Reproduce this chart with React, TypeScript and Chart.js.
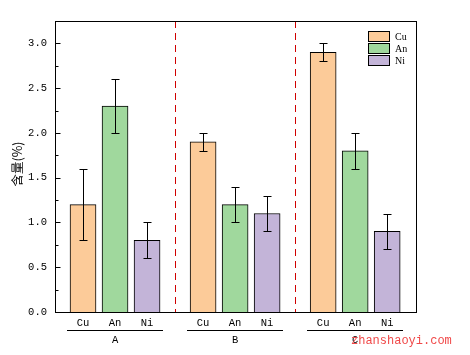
import React, { useEffect, useRef } from "react";
import { Chart, registerables } from "chart.js";

Chart.register(...registerables);

const groups = ["A", "B", "C"];
const metals = ["Cu", "An", "Ni"];
const cuValues = [1.2, 1.9, 2.9];
const anValues = [2.3, 1.2, 1.8];
const niValues = [0.8, 1.1, 0.9];
const cuErrors = [0.4, 0.1, 0.1];
const anErrors = [0.3, 0.2, 0.2];
const niErrors = [0.2, 0.2, 0.2];
const yTicks = [0, 0.5, 1.0, 1.5, 2.0, 2.5, 3.0];
const yTitle = "含量(%)";
const watermark = "zhanshaoyi.com";

const seriesValues = [cuValues, anValues, niValues];
const seriesErrors = [cuErrors, anErrors, niErrors];
const colors = ["#FCCB99", "#A0D89D", "#C3B4D8"];

const GROUP_STEP = 3.75;
const posOf = (g: number, i: number) => 1 + g * GROUP_STEP + i;

const tickPositions: number[] = [];
const tickLabels: string[] = [];
groups.forEach((_, g) =>
  metals.forEach((m, i) => {
    tickPositions.push(posOf(g, i));
    tickLabels.push(m);
  })
);

const monoFont = "'Liberation Mono', 'DejaVu Sans Mono', monospace";

const decorPlugin = {
  id: "decor",
  beforeDatasetsDraw(chart: any) {
    const { ctx, chartArea, scales } = chart;
    const x = scales.x;
    ctx.save();
    ctx.strokeStyle = "#d00000";
    ctx.lineWidth = 1;
    ctx.setLineDash([7, 5]);
    for (let g = 0; g < groups.length - 1; g++) {
      const px = Math.round(x.getPixelForValue((posOf(g, 2) + posOf(g + 1, 0)) / 2)) + 0.5;
      ctx.beginPath();
      ctx.moveTo(px, chartArea.top);
      ctx.lineTo(px, chartArea.bottom);
      ctx.stroke();
    }
    ctx.restore();
  },
  afterDatasetsDraw(chart: any) {
    const { ctx, chartArea, scales } = chart;
    const x = scales.x;
    const y = scales.y;
    ctx.save();
    ctx.strokeStyle = "#000";
    ctx.lineWidth = 1;
    seriesValues.forEach((vals, i) => {
      vals.forEach((v, g) => {
        const e = seriesErrors[i][g];
        const px = Math.round(x.getPixelForValue(posOf(g, i))) + 0.5;
        const top = Math.round(y.getPixelForValue(v + e)) + 0.5;
        const bot = Math.round(y.getPixelForValue(v - e)) + 0.5;
        ctx.beginPath();
        ctx.moveTo(px, top);
        ctx.lineTo(px, bot);
        ctx.moveTo(px - 4, top);
        ctx.lineTo(px + 4, top);
        ctx.moveTo(px - 4, bot);
        ctx.lineTo(px + 4, bot);
        ctx.stroke();
      });
    });
    ctx.strokeRect(
      Math.round(chartArea.left) + 0.5,
      Math.round(chartArea.top) + 0.5,
      Math.round(chartArea.right - chartArea.left),
      Math.round(chartArea.bottom - chartArea.top)
    );
    const lx = Math.round(chartArea.left) + 0.5;
    for (let k = 0; k <= 12; k++) {
      const v = k * 0.25;
      const py = Math.round(y.getPixelForValue(v)) + 0.5;
      const len = k % 2 === 0 ? 5 : 3;
      ctx.beginPath();
      ctx.moveTo(lx, py);
      ctx.lineTo(lx + len, py);
      ctx.stroke();
    }
    ctx.fillStyle = "#000";
    ctx.font = `10.5px ${monoFont}`;
    ctx.textAlign = "center";
    ctx.textBaseline = "middle";
    groups.forEach((gName, g) => {
      const x0 = x.getPixelForValue(posOf(g, 0) - 0.5);
      const x1 = x.getPixelForValue(posOf(g, 2) + 0.5);
      const ly = chartArea.bottom + 18.5;
      ctx.beginPath();
      ctx.moveTo(Math.round(x0), ly);
      ctx.lineTo(Math.round(x1), ly);
      ctx.stroke();
      ctx.fillText(gName, (x0 + x1) / 2, chartArea.bottom + 28);
    });
    ctx.save();
    ctx.translate(17, 164);
    ctx.rotate(-Math.PI / 2);
    ctx.font = "12.5px 'Noto Sans CJK SC', sans-serif";
    ctx.fillText(yTitle, 0, 0);
    ctx.restore();
    const lgX = chartArea.right - 48;
    const lgY = chartArea.top + 10;
    ctx.font = "10px 'Liberation Serif', serif";
    ctx.textAlign = "left";
    metals.forEach((m, i) => {
      const by = lgY + i * 12;
      ctx.fillStyle = colors[i];
      ctx.fillRect(lgX, by, 22, 11);
      ctx.strokeStyle = "#000";
      ctx.strokeRect(lgX + 0.5, by + 0.5, 21, 10);
      ctx.fillStyle = "#000";
      ctx.fillText(m, lgX + 27, by + 6);
    });
    ctx.fillStyle = "#f04848";
    ctx.font = `12px ${monoFont}`;
    ctx.textAlign = "left";
    ctx.fillText(watermark, 351, 341);
    ctx.restore();
  },
};

export default function App() {
  const ref = useRef<HTMLCanvasElement>(null);
  useEffect(() => {
    document.body.style.margin = "0";
    const datasets = metals.map((m, i) => ({
      label: m,
      data: seriesValues[i].map((v, g) => ({ x: posOf(g, i), y: v })),
      backgroundColor: colors[i],
      borderColor: "#000",
      borderWidth: 1,
      barThickness: 26,
      grouped: false,
    }));
    const chart = new Chart(ref.current!, {
      type: "bar",
      data: { datasets },
      options: {
        animation: false,
        responsive: false,
        maintainAspectRatio: false,
        layout: { padding: { top: 21, right: 54, left: 0, bottom: 0 } },
        plugins: { legend: { display: false }, tooltip: { enabled: false } },
        scales: {
          x: {
            type: "linear",
            offset: false,
            min: 0.125,
            max: 11.4,
            grid: { display: false, drawTicks: false },
            border: { display: false },
            afterBuildTicks: (s: any) => {
              s.ticks = tickPositions.map((v) => ({ value: v }));
            },
            afterFit: (s: any) => {
              s.height = 43;
            },
            ticks: {
              autoSkip: false,
              maxRotation: 0,
              padding: 5,
              color: "#000",
              font: { family: monoFont, size: 10.5 },
              callback: (_v: any, i: number) => tickLabels[i],
            },
          },
          y: {
            min: 0,
            max: 3.25,
            grid: { display: false, drawTicks: false },
            border: { display: false },
            afterBuildTicks: (s: any) => {
              s.ticks = yTicks.map((v) => ({ value: v }));
            },
            afterFit: (s: any) => {
              s.width = 55;
            },
            ticks: {
              padding: 8,
              color: "#000",
              font: { family: monoFont, size: 10.5 },
              callback: (v: any) => Number(v).toFixed(1),
            },
          },
        },
      },
      plugins: [decorPlugin],
    } as any);
    return () => chart.destroy();
  }, []);
  return (
    <div style={{ width: 470, height: 355, background: "#fff" }}>
      <canvas ref={ref} width={470} height={355} style={{ display: "block" }} />
    </div>
  );
}
